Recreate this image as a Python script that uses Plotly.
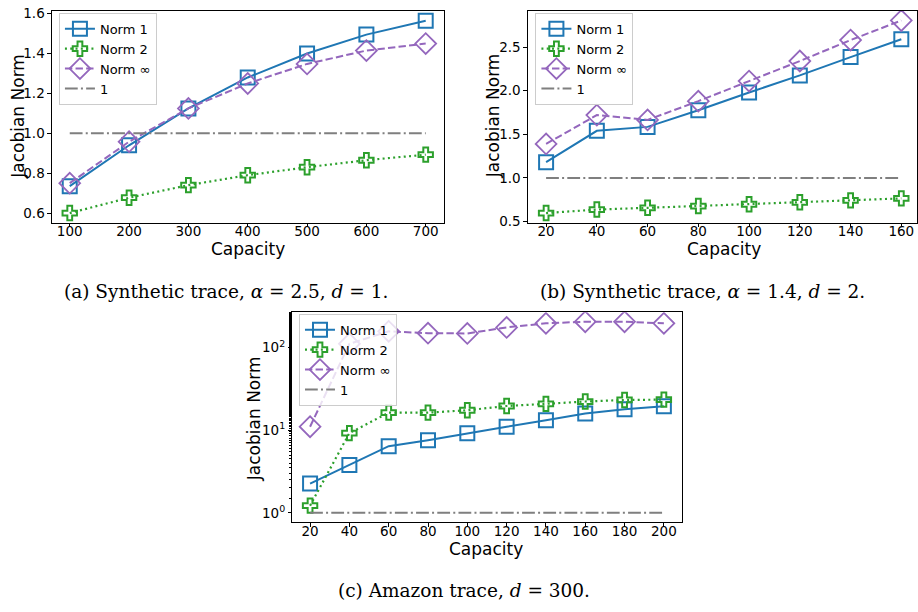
import plotly.graph_objects as go

# ---------------- data ----------------
cap_a = [100, 200, 300, 400, 500, 600, 700]
a_norm1 = [0.735, 0.94, 1.125, 1.28, 1.40, 1.495, 1.565]
a_norm2 = [0.60, 0.677, 0.74, 0.79, 0.83, 0.865, 0.893]
a_norminf = [0.75, 0.958, 1.125, 1.25, 1.348, 1.415, 1.45]

cap_b = [20, 40, 60, 80, 100, 120, 140, 160]
b_norm1 = [1.18, 1.54, 1.585, 1.775, 1.98, 2.175, 2.385, 2.59]
b_norm2 = [0.597, 0.637, 0.657, 0.677, 0.698, 0.72, 0.742, 0.765]
b_norminf = [1.39, 1.72, 1.665, 1.88, 2.11, 2.34, 2.58, 2.805]

cap_c = [20, 40, 60, 80, 100, 120, 140, 160, 180, 200]
c_norm1 = [2.26, 3.79, 6.4, 7.55, 9.2, 11.0, 13.2, 15.9, 17.9, 19.4]
c_norm2 = [1.22, 9.2, 16.3, 16.3, 17.4, 19.6, 20.8, 22.2, 23.2, 23.4]
c_norminf = [11.0, 111, 157, 149, 148, 175, 196, 205, 205, 196]

ref_value = 1
series_names = ["Norm 1", "Norm 2", "Norm ∞", "1"]
captions = ["(a) Synthetic trace, <i>α</i> = 2.5, <i>d</i> = 1.",
            "(b) Synthetic trace, <i>α</i> = 1.4, <i>d</i> = 2.",
            "(c) Amazon trace, <i>d</i> = 300."]

# ---------------- styles ----------------
BLUE, GREEN, PURPLE, GRAY = "#1f77b4", "#2ca02c", "#9467bd", "#7f7f7f"
SANS = "DejaVu Sans"
SERIF = "DejaVu Serif"

fig = go.Figure()

panels = [
    (cap_a, a_norm1, a_norm2, a_norminf, "x", "y", "legend"),
    (cap_b, b_norm1, b_norm2, b_norminf, "x2", "y2", "legend2"),
    (cap_c, c_norm1, c_norm2, c_norminf, "x3", "y3", "legend3"),
]

for caps, n1, n2, ninf, xa, ya, lg in panels:
    fig.add_trace(go.Scatter(
        x=caps, y=n1, name=series_names[0], mode="lines+markers",
        line=dict(color=BLUE, width=2, dash="solid"),
        marker=dict(symbol="square-open", size=14, color=BLUE, line=dict(width=2, color=BLUE)),
        xaxis=xa, yaxis=ya, legend=lg))
    fig.add_trace(go.Scatter(
        x=caps, y=n2, name=series_names[1], mode="lines+markers",
        line=dict(color=GREEN, width=2.2, dash="2px,3.3px"),
        marker=dict(symbol="cross-open", size=12, color=GREEN, line=dict(width=2, color=GREEN)),
        xaxis=xa, yaxis=ya, legend=lg))
    fig.add_trace(go.Scatter(
        x=caps, y=ninf, name=series_names[2], mode="lines+markers",
        line=dict(color=PURPLE, width=2, dash="7.4px,3.2px"),
        marker=dict(symbol="diamond-open", size=16, color=PURPLE, line=dict(width=1.8, color=PURPLE)),
        xaxis=xa, yaxis=ya, legend=lg))
    fig.add_trace(go.Scatter(
        x=caps, y=[ref_value] * len(caps), name=series_names[3], mode="lines",
        line=dict(color=GRAY, width=2, dash="12.8px,3.2px,2px,3.2px"),
        xaxis=xa, yaxis=ya, legend=lg))

axis_common = dict(
    showline=True, mirror=True, linecolor="black", linewidth=1,
    ticks="outside", ticklen=3.5, tickwidth=1, tickcolor="black",
    showgrid=False, zeroline=False,
    tickfont=dict(family=SANS, size=13.5, color="black"),
)
xaxis_extra = dict(ticklabelstandoff=-7)

W, H = 918, 612

def dom(a, b, total):
    return [a / total, b / total]

legend_common = dict(
    bgcolor="rgba(255,255,255,0.8)", bordercolor="#cccccc", borderwidth=1,
    font=dict(family=SANS, size=13, color="black"),
    xanchor="left", yanchor="top", tracegroupgap=0, itemwidth=30,
)

fig.update_layout(
    width=W, height=H,
    margin=dict(l=0, r=0, t=0, b=0),
    paper_bgcolor="white", plot_bgcolor="white",
    font=dict(family=SANS, color="black"),
    xaxis=dict(domain=dom(52, 444, W), range=[70, 730], tickvals=cap_a, anchor="y",
               **axis_common, **xaxis_extra),
    yaxis=dict(domain=[1 - 222 / H, 1 - 6 / H], range=[0.552, 1.614],
               tickvals=[0.6, 0.8, 1.0, 1.2, 1.4, 1.6], ticktext=["0.6", "0.8", "1.0", "1.2", "1.4", "1.6"],
               anchor="x", **axis_common),
    xaxis2=dict(domain=dom(528.5, 918, W), range=[12.84, 166.18], tickvals=cap_b, anchor="y2",
                **axis_common, **xaxis_extra),
    yaxis2=dict(domain=[1 - 222 / H, 1 - 6 / H], range=[0.487, 2.915],
                tickvals=[0.5, 1.0, 1.5, 2.0, 2.5], ticktext=["0.5", "1.0", "1.5", "2.0", "2.5"],
                anchor="x2", **axis_common),
    xaxis3=dict(domain=dom(292.7, 682.3, W), range=[11, 209], tickvals=cap_c, anchor="y3",
                **axis_common, **xaxis_extra),
    yaxis3=dict(domain=[1 - 527.7 / H, 1 - 313.3 / H], type="log", range=[-0.1156, 2.4277],
                tickvals=[1, 10, 100], ticktext=["10<sup>0</sup>", "10<sup>1</sup>", "10<sup>2</sup>"],
                minor=dict(ticks="outside", ticklen=2, tickwidth=0.6, tickcolor="black", showgrid=False),
                anchor="x3", **axis_common),
    legend=dict(x=59 / W, y=1 - 8 / H, **legend_common),
    legend2=dict(x=536 / W, y=1 - 8 / H, **legend_common),
    legend3=dict(x=299.3 / W, y=1 - 315 / H, **legend_common),
    showlegend=True,
)

annotations = []
def ann(text, xpx, ypx, size, family=SANS, angle=0):
    annotations.append(dict(
        text=text, x=xpx / W, y=1 - ypx / H, xref="paper", yref="paper",
        xanchor="center", yanchor="middle", showarrow=False, textangle=angle,
        font=dict(family=family, size=size, color="black")))

# axis titles
ann("Jacobian Norm", 18, 113, 17, angle=-90)
ann("Jacobian Norm", 493, 113, 17, angle=-90)
ann("Jacobian Norm", 255, 421.7, 17, angle=-90)
ann("Capacity", 248, 249, 17)
ann("Capacity", 724.5, 249, 17)
ann("Capacity", 487, 554.5, 17)
# captions
ann(captions[0], 226, 292, 18.5, family=SERIF)
ann(captions[1], 703, 292.5, 18.5, family=SERIF)
ann(captions[2], 465, 597, 18.5, family=SERIF)

fig.update_layout(annotations=annotations)

fig.write_html("out.html",
               config={"displayModeBar": False},
               post_script="document.body.style.margin='0px';document.body.style.padding='0px';document.body.style.overflow='hidden';")
